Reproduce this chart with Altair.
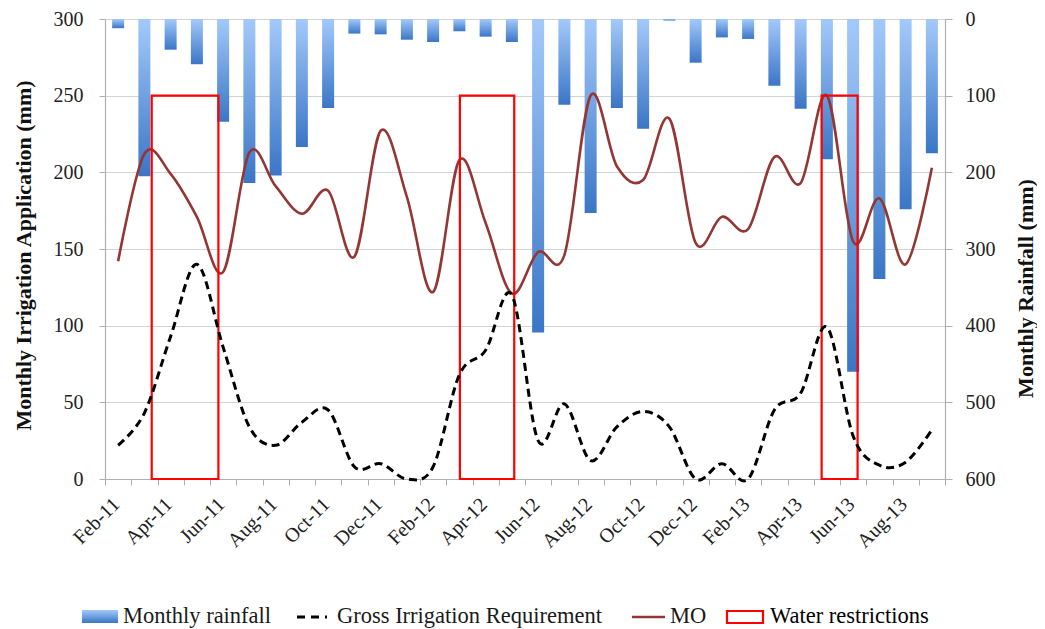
import json
import altair as alt
import pandas as pd

MONTHS = ['Feb-11', 'Mar-11', 'Apr-11', 'May-11', 'Jun-11', 'Jul-11', 'Aug-11', 'Sep-11',
          'Oct-11', 'Nov-11', 'Dec-11', 'Jan-12', 'Feb-12', 'Mar-12', 'Apr-12', 'May-12',
          'Jun-12', 'Jul-12', 'Aug-12', 'Sep-12', 'Oct-12', 'Nov-12', 'Dec-12', 'Jan-13',
          'Feb-13', 'Mar-13', 'Apr-13', 'May-13', 'Jun-13', 'Jul-13', 'Aug-13', 'Sep-13']
RAINFALL = [12, 205, 40, 59, 134, 214, 204, 167, 116, 19, 20, 27, 30, 16, 23, 30,
            409, 112, 253, 116, 143, 2, 57, 24, 26, 87, 117, 183, 460, 339, 248, 175]
MO = [142, 212, 199, 171, 135, 213, 191, 173, 188, 145, 227, 184, 122, 208, 167, 121,
      148, 146, 250, 204, 195, 235, 154, 171, 163, 210, 193, 250, 155, 183, 140, 203]
GIR = [22, 43, 93, 140, 86, 34, 22, 37, 45, 8, 10, 0, 8, 68, 84, 120,
       25, 49, 12, 34, 44, 34, 0, 10, 0, 45, 56, 99, 28, 9, 11, 32]
# water restriction periods, in month-index units along the axis, and their height (mm)
RESTRICT_START = [1.78, 13.52, 27.30]
RESTRICT_END = [4.32, 15.59, 28.67]
RESTRICT_TOP = [250, 250, 250]

FONT = "Liberation Serif"
MO_COLOR = "#943634"
GRID = "#d3d3d3"
AXIS = "#b0b0b0"

df = pd.DataFrame({
    "month": MONTHS,
    "pos": [i + 0.5 for i in range(len(MONTHS))],
    "rain": RAINFALL,
    "mo": MO,
    "gir": GIR,
})
rdf = pd.DataFrame({"s": RESTRICT_START, "e": RESTRICT_END, "top": RESTRICT_TOP,
                    "bottom": [0] * len(RESTRICT_TOP)})

label_expr = ("datum.value % 2 == 0 && datum.value < " + str(len(MONTHS)) + " ? "
              + json.dumps(MONTHS) + "[datum.value] : ''")

x_scale = alt.Scale(domain=[0, len(MONTHS)], nice=False, zero=False, padding=0)
x_axis = alt.Axis(values=list(range(len(MONTHS) + 1)), labelExpr=label_expr,
                  labelAngle=315, labelAlign="right", labelBaseline="middle",
                  labelOffset=11, labelPadding=16, labelOverlap=False, labelFlush=False,
                  tickSize=6, grid=False, title=None)

bar_grad = alt.Gradient(gradient="linear",
                        stops=[alt.GradientStop(color="#a3c9fa", offset=0),
                               alt.GradientStop(color="#3a76c6", offset=1)],
                        x1=0, x2=0, y1=0, y2=1)

bars = alt.Chart(df).mark_bar(size=12, color=bar_grad).encode(
    x=alt.X("pos:Q", scale=x_scale, axis=x_axis),
    y=alt.Y("rain:Q", scale=alt.Scale(domain=[0, 600], reverse=True, nice=False),
            axis=alt.Axis(orient="right", values=list(range(0, 601, 100)), grid=False,
                          title="Monthly Rainfall (mm)", tickSize=7, labelPadding=13,
                          titleAngle=270, titleAlign="center", titleBaseline="middle",
                          titleX=80, titleY=269)),
)

y_left = alt.Scale(domain=[0, 300], nice=False)
left_axis = alt.Axis(orient="left", values=list(range(0, 301, 50)), grid=True,
                     title="Monthly Irrigation Application (mm)", tickSize=6, labelPadding=16,
                     titleAngle=270, titleAlign="center", titleBaseline="middle",
                     titleX=-82, titleY=236)

rects = alt.Chart(rdf).mark_rect(filled=False, stroke="#ff0000", strokeWidth=2.2).encode(
    x=alt.X("s:Q", scale=x_scale, axis=x_axis),
    x2="e:Q",
    y=alt.Y("top:Q", scale=y_left, axis=left_axis),
    y2="bottom:Q",
)
mo_line = alt.Chart(df).mark_line(color=MO_COLOR, strokeWidth=2.6, interpolate="cardinal").encode(
    x=alt.X("pos:Q", scale=x_scale, axis=x_axis),
    y=alt.Y("mo:Q", scale=y_left, axis=left_axis),
)
gir_line = alt.Chart(df).mark_line(color="black", strokeWidth=3, strokeDash=[8, 5],
                                   interpolate="cardinal").encode(
    x=alt.X("pos:Q", scale=x_scale, axis=x_axis),
    y=alt.Y("gir:Q", scale=y_left, axis=left_axis),
)
left = alt.layer(mo_line, rects, gir_line)

one = alt.Data(values=[{"k": 1}])
LY = 597
lg_swatch = alt.Chart(one).mark_rect(color=bar_grad).encode(
    x=alt.value(-23), x2=alt.value(13), y=alt.value(LY - 6), y2=alt.value(LY + 7))
lg_dash = alt.Chart(one).mark_rule(color="black", strokeWidth=3, strokeDash=[8, 6]).encode(
    x=alt.value(192), x2=alt.value(222), y=alt.value(LY + 1))
lg_mo = alt.Chart(one).mark_rule(color=MO_COLOR, strokeWidth=2.6).encode(
    x=alt.value(527), x2=alt.value(560), y=alt.value(LY + 1))
lg_red = alt.Chart(one).mark_rect(filled=False, stroke="#ff0000", strokeWidth=2.2).encode(
    x=alt.value(622), x2=alt.value(658), y=alt.value(LY - 5), y2=alt.value(LY + 7))


def lg_text(xpos, txt, color="#1a1a1a"):
    return alt.Chart(one).mark_text(align="left", baseline="middle", font=FONT,
                                    fontSize=22.5, color=color).encode(
        x=alt.value(xpos), y=alt.value(LY), text=alt.value(txt))


chart = alt.layer(
    bars, left,
    lg_swatch, lg_dash, lg_mo, lg_red,
    lg_text(18, "Monthly rainfall"),
    lg_text(232, "Gross Irrigation Requirement"),
    lg_text(565, "MO"),
    lg_text(665, "Water restrictions", "#000000"),
).resolve_scale(y="independent").properties(
    width=840, height=460,
    autosize=alt.AutoSizeParams(type="none"),
    padding={"left": 97, "top": 11, "right": 92, "bottom": 150},
).configure_view(stroke=None).configure_axis(
    labelFont=FONT, labelFontSize=20, labelColor="#222222",
    titleFont=FONT, titleFontSize=22, titleFontWeight="bold", titleColor="#111111",
    domainColor=AXIS, tickColor=AXIS, gridColor=GRID, domainWidth=1.2,
)

chart.save("out.html", embed_options={"renderer": "svg", "actions": False})
